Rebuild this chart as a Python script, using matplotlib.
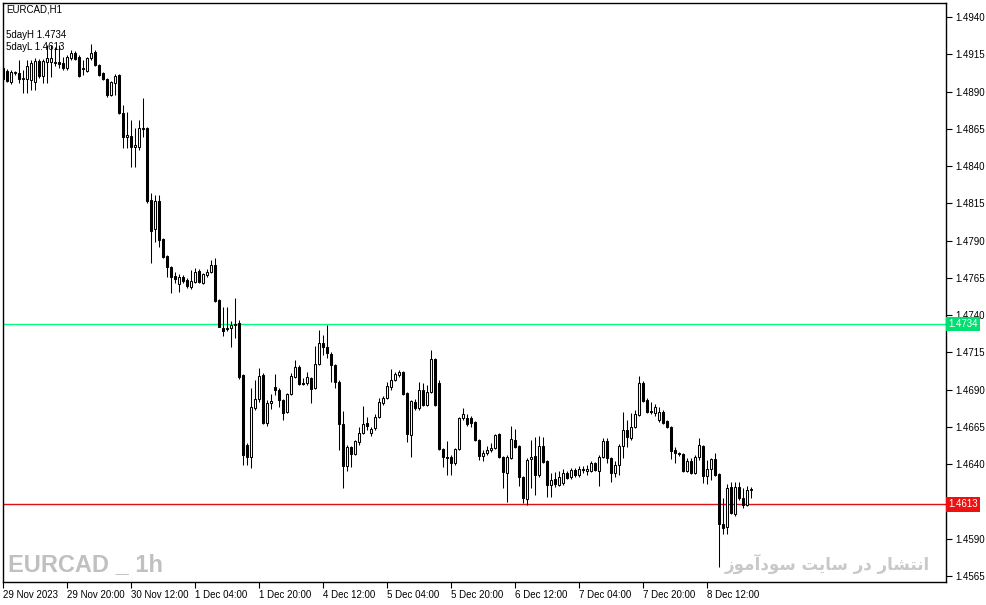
import numpy as np
import matplotlib.pyplot as plt

# EURCAD H1 candles (one bar per hour)
opens = [
    1.49057, 1.49037, 1.48964, 1.49024, 1.49024, 1.48984, 1.48984, 1.48977, 1.48964, 1.49104,
    1.49004, 1.49098, 1.49098, 1.49098, 1.49098, 1.49091, 1.49057, 1.49125, 1.49158, 1.49131,
    1.49057, 1.49037, 1.49125, 1.49165, 1.49078, 1.49024, 1.48984, 1.48876, 1.48957, 1.49010,
    1.48756, 1.48595, 1.48602, 1.48528, 1.48528, 1.48655, 1.48655, 1.48172, 1.47978, 1.48165,
    1.47911, 1.47797, 1.47722, 1.47662, 1.47608, 1.47655, 1.47635, 1.47588, 1.47622, 1.47695,
    1.47615, 1.47669, 1.47689, 1.47736, 1.47501, 1.47313, 1.47313, 1.47313, 1.47340, 1.47347,
    1.46998, 1.46528, 1.46448, 1.46776, 1.46837, 1.46998, 1.46676, 1.46810, 1.46917, 1.46897,
    1.46830, 1.46749, 1.46870, 1.46984, 1.47051, 1.46944, 1.46944, 1.46978, 1.46910, 1.47071,
    1.47213, 1.47186, 1.47139, 1.47064, 1.46951, 1.46669, 1.46388, 1.46515, 1.46468, 1.46549,
    1.46609, 1.46676, 1.46609, 1.46642, 1.46716, 1.46810, 1.46844, 1.46917, 1.46964, 1.46998,
    1.47018, 1.46877, 1.46595, 1.46817, 1.46776, 1.46897, 1.46797, 1.46884, 1.47105, 1.46944,
    1.46502, 1.46448, 1.46448, 1.46408, 1.46502, 1.46709, 1.46709, 1.46709, 1.46682, 1.46562,
    1.46455, 1.46475, 1.46495, 1.46508, 1.46602, 1.46448, 1.46340, 1.46441, 1.46562, 1.46522,
    1.46313, 1.46166, 1.46435, 1.46455, 1.46326, 1.46522, 1.46421, 1.46259, 1.46300, 1.46259,
    1.46273, 1.46340, 1.46313, 1.46360, 1.46326, 1.46367, 1.46354, 1.46354, 1.46408, 1.46354,
    1.46448, 1.46555, 1.46441, 1.46340, 1.46394, 1.46522, 1.46629, 1.46575, 1.46649, 1.46729,
    1.46944, 1.46830, 1.46756, 1.46743, 1.46696, 1.46749, 1.46689, 1.46649, 1.46495, 1.46475,
    1.46468, 1.46354, 1.46421, 1.46340, 1.46448, 1.46522, 1.46320, 1.46367, 1.46435, 1.46333,
    1.45998, 1.45978, 1.46246, 1.46065, 1.46246, 1.46172, 1.46125, 1.46226,
]
highs = [
    1.49084, 1.49051, 1.49044, 1.49037, 1.49111, 1.49044, 1.49111, 1.49111, 1.49125, 1.49118,
    1.49118, 1.49212, 1.49212, 1.49199, 1.49212, 1.49131, 1.49145, 1.49179, 1.49172, 1.49145,
    1.49111, 1.49131, 1.49219, 1.49179, 1.49084, 1.49031, 1.48991, 1.48970, 1.49017, 1.49017,
    1.48809, 1.48763, 1.48709, 1.48655, 1.48709, 1.48857, 1.48662, 1.48219, 1.48205, 1.48205,
    1.47917, 1.47803, 1.47729, 1.47689, 1.47675, 1.47669, 1.47648, 1.47702, 1.47716, 1.47709,
    1.47682, 1.47709, 1.47769, 1.47783, 1.47508, 1.47454, 1.47454, 1.47360, 1.47514, 1.47367,
    1.47004, 1.46542, 1.46910, 1.46964, 1.47044, 1.47011, 1.46830, 1.46870, 1.47004, 1.46910,
    1.46837, 1.46877, 1.47011, 1.47098, 1.47064, 1.46978, 1.47018, 1.46984, 1.47193, 1.47300,
    1.47266, 1.47334, 1.47152, 1.47071, 1.46964, 1.46756, 1.46528, 1.46522, 1.46562, 1.46649,
    1.46790, 1.46716, 1.46649, 1.46736, 1.46844, 1.46857, 1.46951, 1.47038, 1.47018, 1.47031,
    1.47024, 1.46884, 1.46830, 1.46837, 1.46951, 1.46944, 1.46931, 1.47166, 1.47112, 1.46964,
    1.46508, 1.46555, 1.46461, 1.46508, 1.46716, 1.46776, 1.46736, 1.46723, 1.46689, 1.46569,
    1.46495, 1.46522, 1.46542, 1.46602, 1.46609, 1.46455, 1.46461, 1.46656, 1.46636, 1.46528,
    1.46320, 1.46441, 1.46562, 1.46582, 1.46589, 1.46582, 1.46428, 1.46340, 1.46347, 1.46354,
    1.46367, 1.46354, 1.46374, 1.46374, 1.46388, 1.46388, 1.46394, 1.46421, 1.46414, 1.46461,
    1.46575, 1.46575, 1.46448, 1.46421, 1.46535, 1.46749, 1.46696, 1.46743, 1.46763, 1.46991,
    1.46957, 1.46844, 1.46817, 1.46803, 1.46783, 1.46763, 1.46696, 1.46656, 1.46515, 1.46482,
    1.46475, 1.46441, 1.46441, 1.46461, 1.46575, 1.46528, 1.46428, 1.46441, 1.46475, 1.46340,
    1.46172, 1.46266, 1.46280, 1.46280, 1.46280, 1.46239, 1.46253, 1.46246,
]
lows = [
    1.48970, 1.48964, 1.48950, 1.49010, 1.48957, 1.48890, 1.48890, 1.48910, 1.48910, 1.48991,
    1.48957, 1.48957, 1.48997, 1.49071, 1.49057, 1.49044, 1.49044, 1.49111, 1.49111, 1.48997,
    1.49010, 1.49031, 1.49111, 1.49071, 1.49004, 1.48977, 1.48863, 1.48870, 1.48876, 1.48749,
    1.48521, 1.48521, 1.48393, 1.48393, 1.48508, 1.48595, 1.48152, 1.47749, 1.47891, 1.47857,
    1.47783, 1.47655, 1.47548, 1.47615, 1.47555, 1.47615, 1.47581, 1.47575, 1.47615, 1.47615,
    1.47608, 1.47655, 1.47682, 1.47488, 1.47354, 1.47260, 1.47293, 1.47186, 1.47246, 1.46971,
    1.46394, 1.46394, 1.46374, 1.46763, 1.46817, 1.46669, 1.46656, 1.46770, 1.46864, 1.46783,
    1.46696, 1.46743, 1.46864, 1.46978, 1.46931, 1.46931, 1.46931, 1.46810, 1.46904, 1.47064,
    1.47132, 1.47112, 1.46951, 1.46910, 1.46495, 1.46239, 1.46354, 1.46381, 1.46461, 1.46528,
    1.46602, 1.46629, 1.46589, 1.46629, 1.46709, 1.46797, 1.46837, 1.46897, 1.46957, 1.46984,
    1.46864, 1.46549, 1.46448, 1.46763, 1.46763, 1.46790, 1.46790, 1.46877, 1.46790, 1.46495,
    1.46381, 1.46326, 1.46326, 1.46394, 1.46495, 1.46696, 1.46656, 1.46649, 1.46555, 1.46428,
    1.46421, 1.46461, 1.46482, 1.46502, 1.46441, 1.46239, 1.46146, 1.46435, 1.46508, 1.46253,
    1.46139, 1.46125, 1.46239, 1.46193, 1.46313, 1.46408, 1.46179, 1.46179, 1.46246, 1.46253,
    1.46259, 1.46300, 1.46300, 1.46313, 1.46313, 1.46340, 1.46326, 1.46347, 1.46354, 1.46253,
    1.46441, 1.46408, 1.46280, 1.46313, 1.46326, 1.46441, 1.46515, 1.46562, 1.46642, 1.46723,
    1.46817, 1.46743, 1.46736, 1.46723, 1.46682, 1.46669, 1.46642, 1.46435, 1.46408, 1.46455,
    1.46347, 1.46347, 1.46333, 1.46333, 1.46428, 1.46273, 1.46266, 1.46293, 1.46320, 1.45710,
    1.45931, 1.45931, 1.46065, 1.46052, 1.46159, 1.46105, 1.46119, 1.46172,
]
closes = [
    1.48984, 1.48970, 1.49031, 1.49031, 1.48984, 1.48991, 1.49071, 1.49091, 1.49104, 1.49004,
    1.49104, 1.49125, 1.49125, 1.49091, 1.49084, 1.49057, 1.49131, 1.49158, 1.49118, 1.49004,
    1.49051, 1.49125, 1.49158, 1.49078, 1.49010, 1.48984, 1.48876, 1.48964, 1.49004, 1.48756,
    1.48595, 1.48608, 1.48528, 1.48541, 1.48655, 1.48649, 1.48165, 1.47964, 1.48165, 1.47904,
    1.47790, 1.47722, 1.47655, 1.47642, 1.47655, 1.47628, 1.47595, 1.47628, 1.47689, 1.47622,
    1.47675, 1.47689, 1.47736, 1.47494, 1.47320, 1.47293, 1.47306, 1.47334, 1.47334, 1.46984,
    1.46461, 1.46448, 1.46783, 1.46837, 1.46991, 1.46676, 1.46810, 1.46823, 1.46897, 1.46830,
    1.46743, 1.46870, 1.46991, 1.47051, 1.46937, 1.46937, 1.46984, 1.46904, 1.47071, 1.47213,
    1.47186, 1.47145, 1.47064, 1.46951, 1.46669, 1.46388, 1.46515, 1.46468, 1.46555, 1.46609,
    1.46669, 1.46656, 1.46636, 1.46716, 1.46817, 1.46844, 1.46924, 1.46964, 1.47004, 1.47018,
    1.46870, 1.46602, 1.46823, 1.46776, 1.46897, 1.46797, 1.46884, 1.47105, 1.46797, 1.46502,
    1.46448, 1.46441, 1.46408, 1.46502, 1.46709, 1.46736, 1.46669, 1.46676, 1.46562, 1.46455,
    1.46475, 1.46495, 1.46508, 1.46595, 1.46448, 1.46347, 1.46448, 1.46569, 1.46515, 1.46313,
    1.46172, 1.46428, 1.46448, 1.46326, 1.46522, 1.46414, 1.46259, 1.46293, 1.46266, 1.46313,
    1.46340, 1.46306, 1.46360, 1.46326, 1.46367, 1.46360, 1.46367, 1.46408, 1.46360, 1.46448,
    1.46555, 1.46441, 1.46340, 1.46394, 1.46522, 1.46629, 1.46582, 1.46649, 1.46736, 1.46944,
    1.46823, 1.46749, 1.46749, 1.46783, 1.46749, 1.46676, 1.46649, 1.46488, 1.46475, 1.46468,
    1.46354, 1.46421, 1.46340, 1.46448, 1.46528, 1.46320, 1.46367, 1.46435, 1.46326, 1.45998,
    1.45971, 1.46239, 1.46072, 1.46246, 1.46172, 1.46125, 1.46226, 1.46233,
]

time_labels = ['29 Nov 2023', '29 Nov 20:00', '30 Nov 12:00', '1 Dec 04:00', '1 Dec 20:00',
               '4 Dec 12:00', '5 Dec 04:00', '5 Dec 20:00', '6 Dec 12:00', '7 Dec 04:00',
               '7 Dec 20:00', '8 Dec 12:00']
bars_per_label = 16
price_ticks = [1.4940, 1.4915, 1.4890, 1.4865, 1.4840, 1.4815, 1.4790, 1.4765,
               1.4740, 1.4715, 1.4690, 1.4665, 1.4640, 1.4590, 1.4565]
day_high = 1.4734
day_low = 1.4613

plt.rcParams['font.family'] = ['Liberation Sans', 'DejaVu Sans']
plt.rcParams['font.size'] = 7

o = np.array(opens)
h = np.array(highs)
l = np.array(lows)
c = np.array(closes)
x = np.arange(len(o))
up = c >= o

fig = plt.figure(figsize=(9.87, 6.05), dpi=100)
ax = fig.add_axes([3 / 987, 1 - 582 / 605, 943 / 987, 579 / 605])

ax.vlines(x, l, h, color='black', linewidth=0.75, zorder=2)
bottoms = np.minimum(o, c)
heights = np.abs(c - o)
ax.bar(x[up], heights[up], bottom=bottoms[up], width=0.5,
       facecolor='white', edgecolor='black', linewidth=0.75, zorder=3)
ax.bar(x[~up], heights[~up], bottom=bottoms[~up], width=0.5,
       facecolor='black', edgecolor='black', linewidth=0.75, zorder=3)

ax.axhline(day_high, color='#00ff7f', linewidth=1, zorder=1)
ax.axhline(day_low, color='#e01010', linewidth=1, zorder=1)

ax.set_xlim(-0.075, 235.7)
ax.set_ylim(1.45609, 1.49494)

ax.yaxis.tick_right()
ax.set_yticks(price_ticks)
ax.set_yticklabels(['%.4f' % p for p in price_ticks])
ax.tick_params(axis='y', length=4, pad=3, colors='black')

ax.set_xticks(np.arange(len(time_labels)) * bars_per_label)
ax.set_xticklabels(time_labels)
for lbl in ax.get_xticklabels():
    lbl.set_horizontalalignment('left')
ax.tick_params(axis='x', length=4, pad=2)

for s in ax.spines.values():
    s.set_linewidth(1)

# price tags on the right axis, drawn over the axis labels like the terminal does
for val, col in [(day_high, '#00e070'), (day_low, '#ee1111')]:
    ax.annotate('%.4f' % val, xy=(1.0, val), xycoords=('axes fraction', 'data'),
                xytext=(1.5, 0), textcoords='offset points', ha='left', va='center',
                color='white', fontsize=7, zorder=10,
                bbox=dict(boxstyle='square,pad=0.25', facecolor=col, edgecolor='none'))

fig.text(6 / 987, 1 - 10 / 605, 'EURCAD,H1', ha='left', va='center')
fig.text(6 / 987, 1 - 35 / 605, '5dayH 1.4734', ha='left', va='center')
fig.text(6 / 987, 1 - 47 / 605, '5dayL 1.4613', ha='left', va='center')

fig.text(8 / 987, 1 - 565 / 605, 'EURCAD _ 1h', ha='left', va='center',
         fontsize=17, fontweight='bold', color='#c0c0c0')

# Persian watermark, written in joined presentation forms, left-to-right
persian = ('\uFEAF\uFEEE\uFEE3\uFE81\uFEA9\uFEEE\uFEB3 \uFE96\uFEF3\uFE8E\uFEB3 '
           '\uFEAD\uFEA9 \uFEAD\uFE8E\uFEB8\uFE98\uFEE7\uFE8D')
fig.text(930 / 987, 1 - 564 / 605, persian, ha='right', va='center',
         fontsize=12, fontweight='bold', color='#c8c8c8', family=['DejaVu Sans'])

fig.savefig('out.png', dpi=100, facecolor='white')
